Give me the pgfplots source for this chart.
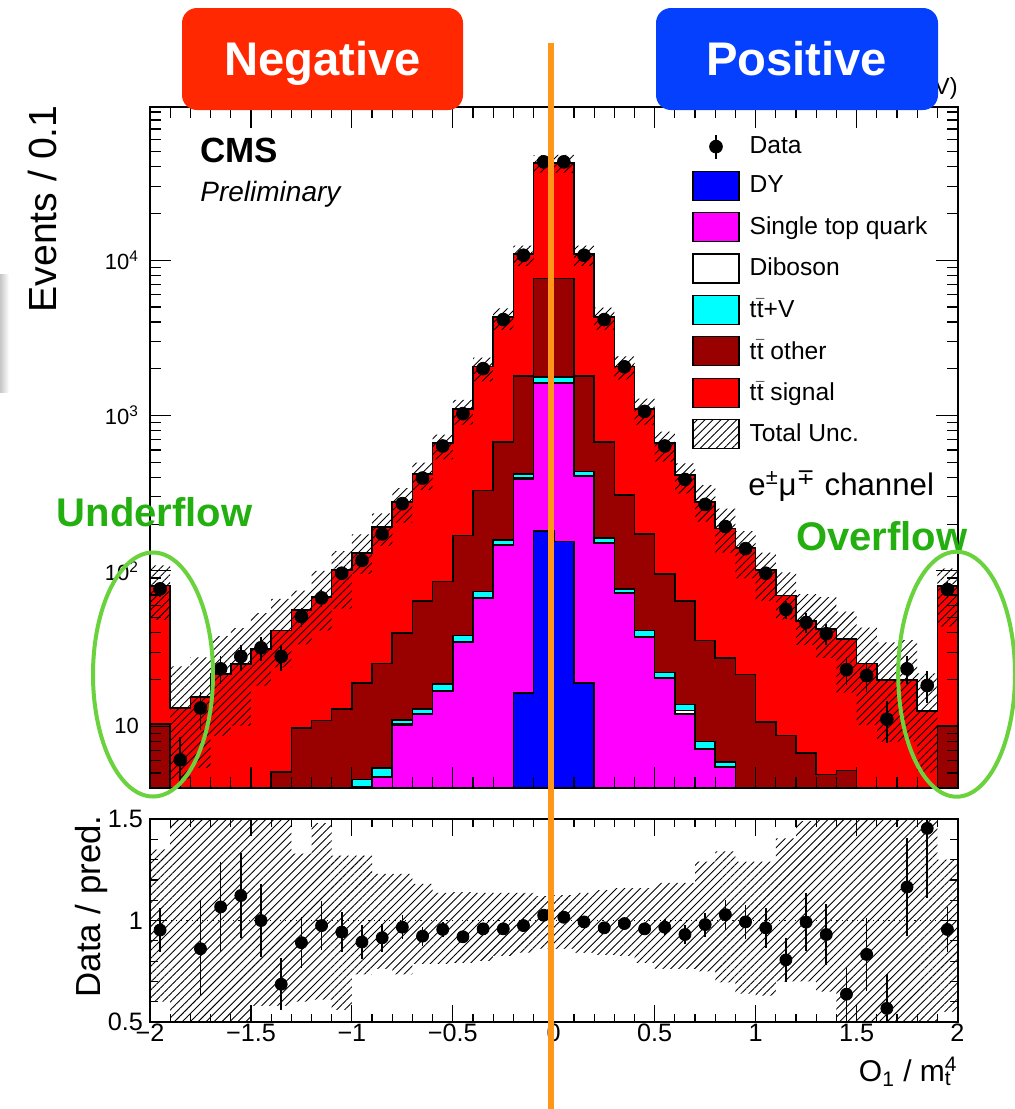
\documentclass[border=0pt]{standalone}
\usepackage{fontspec}
\setmainfont{Liberation Sans}
\newfontfamily\dejavu{DejaVu Sans}
\usepackage{pgfplots}
\pgfplotsset{compat=1.18}
\usepackage{pgfplotstable}
\usetikzlibrary{patterns,patterns.meta}

\definecolor{ttsig}{RGB}{255,0,0}
\definecolor{ttoth}{RGB}{153,0,0}
\definecolor{ttvc}{RGB}{0,255,255}
\definecolor{stop}{RGB}{255,0,255}
\definecolor{dyc}{RGB}{0,0,255}
\definecolor{negc}{RGB}{255,40,0}
\definecolor{posc}{RGB}{5,64,255}
\definecolor{orng}{RGB}{255,150,25}
\definecolor{ellg}{RGB}{105,210,60}
\definecolor{txtg}{RGB}{35,175,15}
\tikzset{hatch/.style={pattern={Lines[angle=45,distance=2.8pt,line width=0.45pt]}, draw=none}}

\pgfplotstableread{
x xc tot oth ttv dib st dy d de r re lo hi
-2.0 -1.95 80.5 10.3 1 1 1 1 76.6 8.75 0.953 0.109 0.60 1.35
-1.9 -1.85 13.1 1 1 1 1 1 6.07 2.46 nan nan 0.35 1.85
-1.8 -1.75 15.4 1 1 1 1 1 13.1 3.62 0.861 0.235 0.35 1.80
-1.7 -1.65 21.7 1 1 1 1 1 23.4 4.84 1.067 0.223 0.40 1.75
-1.6 -1.55 25.2 1 1 1 1 1 28.1 5.30 1.123 0.210 0.40 1.70
-1.5 -1.45 31.5 1 1 1 1 1 32.0 5.66 1.000 0.180 0.58 1.70
-1.4 -1.35 41.3 5.05 1 1 1 1 28.1 5.30 0.686 0.128 0.58 1.60
-1.3 -1.25 56.1 9.7 1 1 1 1 50.8 7.13 0.891 0.127 0.60 1.33
-1.2 -1.15 67.7 10.9 1 1 1 1 67.0 8.19 0.975 0.122 0.61 1.48
-1.1 -1.05 101.6 12.9 1 1 1 1 96.6 9.83 0.943 0.097 0.56 1.32
-1.0 -0.95 130 18.9 4.53 4.1 1 1 116.7 10.8 0.894 0.083 0.735 1.32
-0.9 -0.85 191 25.4 5.36 4.75 4.7 1 173 13.2 0.915 0.069 0.76 1.23
-0.8 -0.75 277 39.9 11.0 10.3 10.2 1 271 16.5 0.967 0.060 0.735 1.23
-0.7 -0.65 422 63.8 12.9 12.1 12.0 1 396 19.9 0.923 0.047 0.785 1.18
-0.6 -0.55 665 85.5 18.7 17.0 16.9 1 637 25.2 0.956 0.038 0.785 1.136
-0.5 -0.45 1107 169 38.4 35.2 34.8 1 1029 32.1 0.920 0.029 0.79 1.14
-0.4 -0.35 2075 330 73.6 67.5 66.7 1 2005 44.8 0.959 0.022 0.80 1.136
-0.3 -0.25 4313 675 158.6 147.5 146 1 4150 64.4 0.959 0.015 0.825 1.136
-0.2 -0.15 10930 1798 422 395 392 16.4 10770 103.8 0.975 0.0095 0.84 1.136
-0.1 -0.05 42400 7620 1770 1635 1619 180 43000 207 1.026 0.005 0.86 1.12
0.0 0.05 42400 7620 1770 1635 1619 155 43000 207 1.016 0.005 0.86 1.125
0.1 0.15 10930 1798 436 409 405 18.9 10770 103.8 0.993 0.0095 0.84 1.136
0.2 0.25 4313 675 162.6 152 150.8 1 4150 64.4 0.964 0.015 0.83 1.15
0.3 0.35 2075 309 76.7 72.5 71.8 1 2060 45.4 0.985 0.022 0.825 1.16
0.4 0.45 1107 173 41.3 37.8 37.4 1 1064 32.6 0.959 0.029 0.79 1.16
0.5 0.55 665 95.7 22.2 20.6 20.4 1 637 25.2 0.967 0.038 0.76 1.185
0.6 0.65 416 63.8 13.8 12.6 12.0 1 388 19.7 0.931 0.047 0.76 1.185
0.7 0.75 277 35.6 7.96 7.2 7.14 1 268 16.4 0.980 0.059 0.75 1.29
0.8 0.85 188 27.5 5.86 5.48 5.43 1 193 13.9 1.029 0.074 0.695 1.34
0.9 0.95 140 21.5 1 1 1 1 139 11.8 0.993 0.084 0.64 1.29
1.0 1.05 101.6 10.6 1 1 1 1 96.6 9.83 0.964 0.097 0.63 1.29
1.1 1.15 69.5 8.7 1 1 1 1 56.4 7.51 0.806 0.108 0.70 1.405
1.2 1.25 47.5 6.7 1 1 1 1 46.5 6.82 0.992 0.144 0.70 1.49
1.3 1.35 42.4 4.9 1 1 1 1 39.4 6.28 0.931 0.148 0.65 1.60
1.4 1.45 36.5 5.2 1 1 1 1 23.1 4.81 0.637 0.132 0.45 1.50
1.5 1.55 25.4 1 1 1 1 1 21.2 4.60 0.833 0.181 0.40 1.70
1.6 1.65 19.8 1 1 1 1 1 11.1 3.33 0.567 0.168 0.40 1.75
1.7 1.75 19.9 1 1 1 1 1 23.4 4.84 1.165 0.243 0.40 1.80
1.8 1.85 12.5 1 1 1 1 1 18.3 4.28 1.454 0.342 0.40 1.75
1.9 1.95 79.7 10.1 1 1 1 1 75.9 8.71 0.956 0.109 0.55 1.30
2.0 2.05 79.7 10.1 1 1 1 1 nan nan nan nan 0.55 1.30
}\main

\newcommand{\ttbar}{t\kern0.2pt$\bar{\mbox{t}}$}

\begin{document}
\begin{tikzpicture}
\useasboundingbox (0,0) rectangle (507.5pt,-554.5pt);
% ---------------- main panel
\begin{axis}[
  at={(75pt,-394pt)}, anchor=south west,
  scale only axis, width=403.75pt, height=340.5pt,
  xmin=-2, xmax=2, ymode=log, ymin=4, ymax=97000,
  axis on top,
  axis line style={line width=1pt},
  xtick={-2,-1.5,...,2}, xticklabels={}, minor x tick num=4,
  ytick={10,100,1000,10000},
  yticklabels={10,10\textsuperscript{2},10\textsuperscript{3},10\textsuperscript{4}},
  minor ytick={4,5,6,7,8,9,20,30,40,50,60,70,80,90,200,300,400,500,600,700,800,900,2000,3000,4000,5000,6000,7000,8000,9000,20000,30000,40000,50000,60000,70000,80000,90000},
  tick align=inside,
  major tick length=10.5pt, minor tick length=5.5pt,
  every tick/.style={black, line width=0.6pt},
  yticklabel style={font=\fontsize{11}{12}\selectfont, xshift=-2pt},
  legend style={at={(0.6712,0.9612)}, anchor=north west, draw=none, fill=none,
    inner sep=0pt, row sep=5.6pt, column sep=5pt,
    font=\fontsize{12.3}{14}\selectfont, nodes={inner sep=0pt}},
  legend cell align=left,
]
\addlegendimage{legend image code/.code={\draw[line width=0.8pt] (11.5pt,-6pt)--(11.5pt,6pt); \fill (11.5pt,0pt) circle (3.2pt);}}
\addlegendentry{Data}
\addlegendimage{legend image code/.code={\draw[fill=dyc, line width=0.6pt] (0pt,-7.25pt) rectangle (23pt,7.25pt);}}
\addlegendentry{DY}
\addlegendimage{legend image code/.code={\draw[fill=stop, line width=0.6pt] (0pt,-7.25pt) rectangle (23pt,7.25pt);}}
\addlegendentry{Single top quark}
\addlegendimage{legend image code/.code={\draw[fill=white, line width=0.6pt] (0pt,-7.25pt) rectangle (23pt,7.25pt);}}
\addlegendentry{Diboson}
\addlegendimage{legend image code/.code={\draw[fill=ttvc, line width=0.6pt] (0pt,-7.25pt) rectangle (23pt,7.25pt);}}
\addlegendentry{\ttbar+V}
\addlegendimage{legend image code/.code={\draw[fill=ttoth, line width=0.6pt] (0pt,-7.25pt) rectangle (23pt,7.25pt);}}
\addlegendentry{\ttbar{} other}
\addlegendimage{legend image code/.code={\draw[fill=ttsig, line width=0.6pt] (0pt,-7.25pt) rectangle (23pt,7.25pt);}}
\addlegendentry{\ttbar{} signal}
\addlegendimage{legend image code/.code={\fill[pattern={Lines[angle=45,distance=2.8pt,line width=0.45pt]}] (0pt,-7.25pt) rectangle (23pt,7.25pt); \draw[line width=0.6pt] (0pt,-7.25pt) rectangle (23pt,7.25pt);}}
\addlegendentry{Total Unc.}

% tt signal (total) fill, uncertainty hatch, then restore fill below band
\addplot[const plot mark left, fill=ttsig, draw=none, forget plot] table[x=x,y=tot]{\main} \closedcycle;
\addplot[const plot mark left, hatch, forget plot] table[x=x, y expr=\thisrow{tot}*\thisrow{hi}]{\main} \closedcycle;
\addplot[const plot mark left, fill=ttsig, draw=none, forget plot] table[x=x, y expr=\thisrow{tot}*\thisrow{lo}]{\main} \closedcycle;
\addplot[const plot mark left, draw=black, line width=0.8pt, forget plot] table[x=x,y=tot]{\main};
% lower stack components
\addplot[const plot mark left, fill=ttoth, draw=black, line width=0.8pt, forget plot] table[x=x,y=oth]{\main} \closedcycle;
\addplot[const plot mark left, fill=ttvc, draw=black, line width=0.8pt, forget plot] table[x=x,y=ttv]{\main} \closedcycle;
\addplot[const plot mark left, fill=white, draw=black, line width=0.8pt, forget plot] table[x=x,y=dib]{\main} \closedcycle;
\addplot[const plot mark left, fill=stop, draw=black, line width=0.8pt, forget plot] table[x=x,y=st]{\main} \closedcycle;
\addplot[const plot mark left, fill=dyc, draw=black, line width=0.8pt, forget plot] table[x=x,y=dy]{\main} \closedcycle;

\addplot[only marks, mark=*, mark size=3.2pt, black, forget plot,
  skip coords between index={40}{41},
  error bars/.cd, y dir=both, y explicit, error mark=none,
  error bar style={line width=0.8pt}]
  table[x=xc, y=d, y error=de]{\main};
\end{axis}

% ---------------- ratio panel
\begin{axis}[
  at={(75pt,-511pt)}, anchor=south west,
  scale only axis, width=403.75pt, height=101.5pt,
  xmin=-2, xmax=2, ymin=0.5, ymax=1.5,
  axis on top,
  axis line style={line width=1pt},
  xtick={-2,-1.5,...,2},
  xticklabels={−2,−1.5,−1,−0.5,0,0.5,1,1.5,2},
  minor x tick num=4,
  ytick={0.5,1,1.5}, yticklabels={0.5,1,1.5}, minor y tick num=4,
  tick align=inside,
  major tick length=8.5pt, minor tick length=4pt,
  every tick/.style={black, line width=0.6pt},
  ticklabel style={font=\fontsize{12.6}{14}\selectfont},
  xticklabel style={yshift=2.5pt},
]
\addplot[const plot mark left, hatch] table[x=x,y=hi]{\main} \closedcycle;
\addplot[const plot mark left, fill=white, draw=none] table[x=x,y=lo]{\main} \closedcycle;
\addplot[dotted, line width=0.6pt] coordinates {(-2,1) (2,1)};
\addplot[only marks, mark=*, mark size=3pt, black,
  skip coords between index={40}{41},
  error bars/.cd, y dir=both, y explicit, error mark=none,
  error bar style={line width=0.8pt}]
  table[x=xc, y=r, y error=re]{\main};
\end{axis}

% ---------------- texts
\node[rotate=90, anchor=north east, inner sep=0pt, font=\fontsize{19.6}{22}\selectfont] at (14pt,-52.5pt) {Events / 0.1};
\node[rotate=90, anchor=north east, inner sep=0pt, font=\fontsize{17.4}{20}\selectfont] at (37.5pt,-407.5pt) {Data / pred.};
\node[anchor=base east, inner sep=0pt, font=\fontsize{15}{18}\selectfont] at (479pt,-540.8pt) {O\textsubscript{1} / m\rlap{\textsubscript{t}}\textsuperscript{4}};
\node[anchor=base west, inner sep=0pt, font=\fontsize{17.5}{20}\selectfont\bfseries] at (100pt,-81pt) {CMS};
\node[anchor=base west, inner sep=0pt, font=\fontsize{14}{16}\selectfont\itshape] at (100pt,-100.8pt) {Preliminary};
\node[anchor=base west, inner sep=0pt, font=\fontsize{15.6}{18}\selectfont] at (374pt,-247.5pt) {e\textsuperscript{±}μ\textsuperscript{\dejavu ∓} channel};
\node[anchor=base east, inner sep=0pt, font=\fontsize{11.7}{14}\selectfont] at (479pt,-47pt) {35.9 fb\textsuperscript{−1} (13 TeV)};

% ---------------- annotations
\shade[left color=gray!45, right color=white] (0pt,-137pt) rectangle (4.5pt,-196pt);
\fill[negc, rounded corners=7.5pt] (91pt,-4pt) rectangle (231.5pt,-55pt);
\node[font=\fontsize{23.6}{26}\selectfont\bfseries, text=white, anchor=base, inner sep=0pt] at (161.25pt,-37.5pt) {Negative};
\fill[posc, rounded corners=7.5pt] (328pt,-4pt) rectangle (469pt,-55pt);
\node[font=\fontsize{23.6}{26}\selectfont\bfseries, text=white, anchor=base, inner sep=0pt] at (398.3pt,-37.5pt) {Positive};
\draw[orng, line width=2.6pt] (275.5pt,-21.5pt) -- (275.5pt,-560pt);
\draw[ellg, line width=2pt] (76.5pt,-337.25pt) ellipse [x radius=30pt, y radius=61pt];
\draw[ellg, line width=2pt] (478.3pt,-337.1pt) ellipse [x radius=29.2pt, y radius=61.25pt];
\node[font=\fontsize{20}{22}\selectfont\bfseries, text=txtg, anchor=base, inner sep=0pt] at (77.25pt,-263.3pt) {Underflow};
\node[font=\fontsize{20}{22}\selectfont\bfseries, text=txtg, anchor=base, inner sep=0pt] at (440.8pt,-275pt) {Overflow};
\end{tikzpicture}
\end{document}
